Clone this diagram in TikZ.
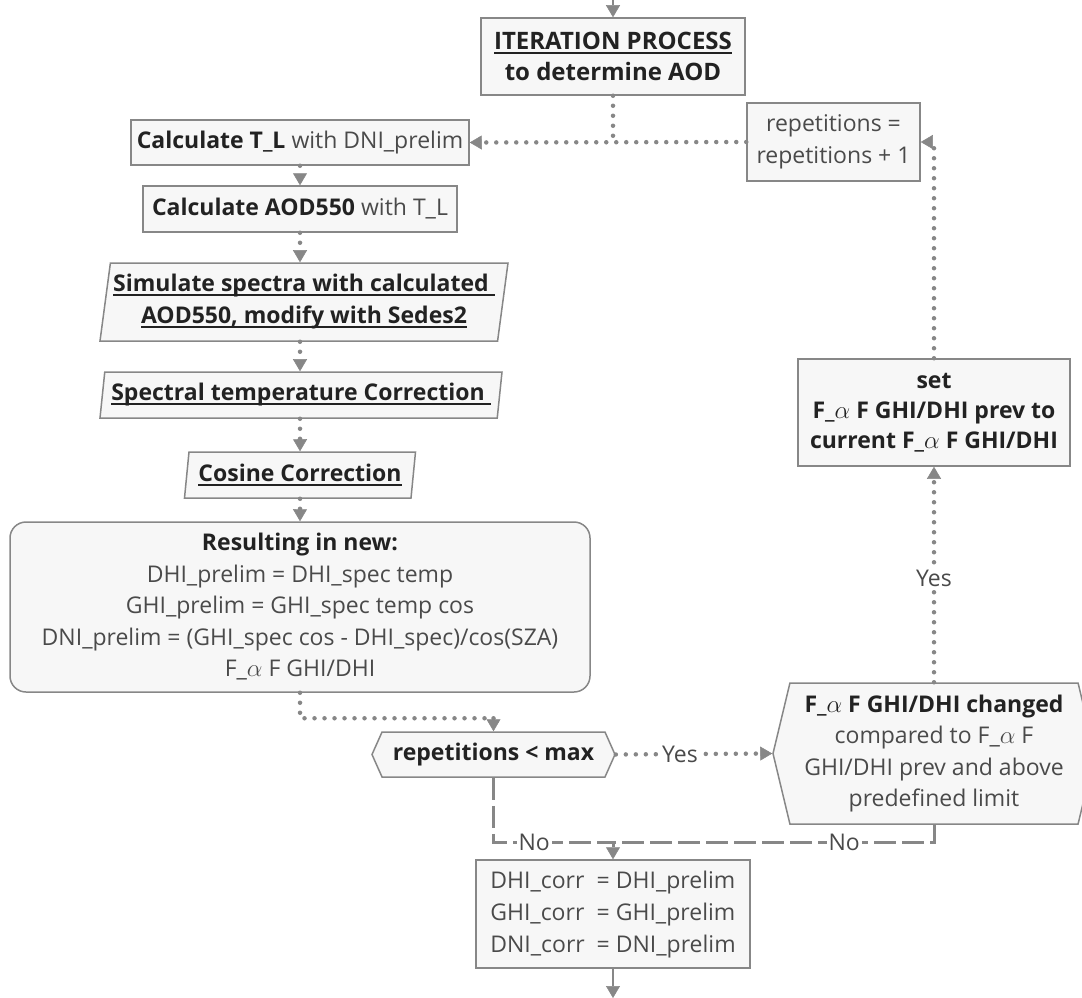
\documentclass[tikz,border=0pt]{standalone}
\usepackage{fontspec}
\setmainfont{Open Sans}
\usetikzlibrary{arrows.meta,shapes.geometric,shapes.symbols}

\definecolor{linegray}{HTML}{878787}
\definecolor{boxfill}{HTML}{F7F7F7}
\definecolor{txtdark}{HTML}{222222}
\definecolor{txtgray}{HTML}{4A4A4A}

% testo in grassetto e sottolineato
\newcommand{\hd}[1]{\textcolor{txtdark}{\bfseries #1}}
\newcommand{\uln}[1]{\setbox0\hbox{#1}\rlap{\rule[-4pt]{\wd0}{1.5pt}}\box0}

\tikzset{
  box/.style={draw=linegray, fill=boxfill, line width=1.5pt, align=center,
    text=txtgray, inner sep=2pt, font=\fontsize{23}{31.5}\selectfont},
  slantbox/.style={box, trapezium, trapezium left angle=80,
    trapezium right angle=100, trapezium stretches body},
  choice/.style={box, signal, signal to=west and east},
  dotline/.style={draw=linegray, line width=4.5pt, line cap=round,
    dash pattern=on 0pt off 10pt},
  dashline/.style={draw=linegray, line width=3pt, dash pattern=on 22pt off 6pt},
  tip/.style={-{Triangle[length=12pt,width=14pt,line width=0.5pt]}},
  lbl/.style={fill=white, text=txtgray, inner sep=3pt, font=\fontsize{23}{27}\selectfont}
}

\begin{document}
\begin{tikzpicture}[x=1pt,y=-1pt]
    \useasboundingbox (0,0) rectangle (1082,998);

    % Colonna sinistra
    \node[box, minimum width=264pt, minimum height=77pt, font=\fontsize{24}{31}\selectfont] (iter) at (613,56.5)
        {\hd{\uln{ITERATION PROCESS}}\\\hd{to determine AOD}};
    \node[box, minimum width=338pt, minimum height=45pt] (calcTL) at (300,142.5)
        {\hd{Calculate T\_L} with DNI\_prelim};
    \node[box, minimum width=314pt, minimum height=46pt] (calcAOD) at (300,209)
        {\hd{Calculate AOD550} with T\_L};
    \node[slantbox, minimum width=408pt, minimum height=78pt, font=\fontsize{23}{32}\selectfont] (sim) at (304,302)
        {\hd{\uln{Simulate spectra with calculated\ }}\\\hd{\uln{AOD550, modify with Sedes2}}};
    \node[slantbox, minimum width=402pt, minimum height=46pt] (spec) at (301,395)
        {\hd{\uln{Spectral temperature Correction\ }}};
    \node[slantbox, minimum width=231pt, minimum height=46pt] (cosine) at (300,475)
        {\hd{\uln{Cosine Correction}}};
    \node[box, rounded corners=16pt, minimum width=580pt, minimum height=170pt] (result) at (300,607)
        {\hd{Resulting in new:}\\DHI\_prelim = DHI\_spec temp\\GHI\_prelim = GHI\_spec temp cos\\
         DNI\_prelim = (GHI\_spec cos - DHI\_spec)/cos(SZA)\\F\_$\alpha$ F GHI/DHI};

    % Decisioni
    \node[choice, signal pointer angle=132, minimum width=243pt, minimum height=45pt] (dec) at (493.5,754.5)
        {\hd{repetitions < max}};
    \node[choice, signal pointer angle=153, minimum width=322pt, minimum height=141pt] (chg) at (934,753.5)
        {\hd{F\_$\alpha$ F GHI/DHI changed}\\compared to F\_$\alpha$ F\\GHI/DHI prev and above\\predefined limit};

    % Colonna destra
    \node[box, minimum width=272pt, minimum height=107pt, font=\fontsize{23}{30}\selectfont] (setprev) at (934,412.5)
        {\hd{set}\\\hd{F\_$\alpha$ F GHI/DHI prev to}\\\hd{current F\_$\alpha$ F GHI/DHI}};
    \node[box, minimum width=173pt, minimum height=78pt, font=\fontsize{23}{32}\selectfont] (reps) at (833.5,142)
        {repetitions =\\repetitions + 1};

    % Risultato finale
    \node[box, minimum width=274pt, minimum height=108pt] (final) at (613,914)
        {\def\arraystretch{1.02}\begin{tabular}{@{}l@{\ \ = }l@{}}
         DHI\_corr & DHI\_prelim\\GHI\_corr & GHI\_prelim\\DNI\_corr & DNI\_prelim\end{tabular}};

    % Punti di appoggio
    \coordinate (start) at (613,0);
    \coordinate (stop) at (613,998);
    \coordinate (bend) at ([yshift=13pt]dec.north);
    \coordinate (join) at ([yshift=17pt]final.north);

    % Connettori
    \draw[linegray, line width=1.5pt, tip] (start) -- (iter.north);
    \draw[dotline] (iter.south) -- (iter.south |- calcTL.east);
    \draw[dotline, tip] (reps.west) -- (calcTL.east);
    \draw[dotline, tip] (calcTL.south) -- (calcAOD.north);
    \draw[dotline, tip] (calcAOD.south) -- (calcAOD.south |- sim.north);
    \draw[dotline, tip] (calcAOD.south |- sim.south) -- (calcAOD.south |- spec.north);
    \draw[dotline, tip] (calcAOD.south |- spec.south) -- (cosine.north);
    \draw[dotline, tip] (cosine.south) -- (result.north);
    \draw[dotline] (result.south) |- (bend);
    \draw[dotline, tip] (bend) -- (dec.north);
    \draw[dotline, tip] (dec.east) -- node[lbl, pos=0.41] {Yes} (chg.west);
    \draw[dotline, tip] (chg.north) -- node[lbl, pos=0.48] {Yes} (setprev.south);
    \draw[dotline, tip] (setprev.north) |- (reps.east);
    \draw[dashline] (dec.south) |- node[lbl, pos=0.67, inner sep=2pt] {No} (join);
    \draw[dashline] (chg.south) |- node[lbl, pos=0.64, inner sep=2pt] {No} (join);
    \draw[linegray, line width=3pt, tip] (join) -- (final.north);
    \draw[linegray, line width=1.5pt, tip] (final.south) -- (stop);
\end{tikzpicture}
\end{document}
